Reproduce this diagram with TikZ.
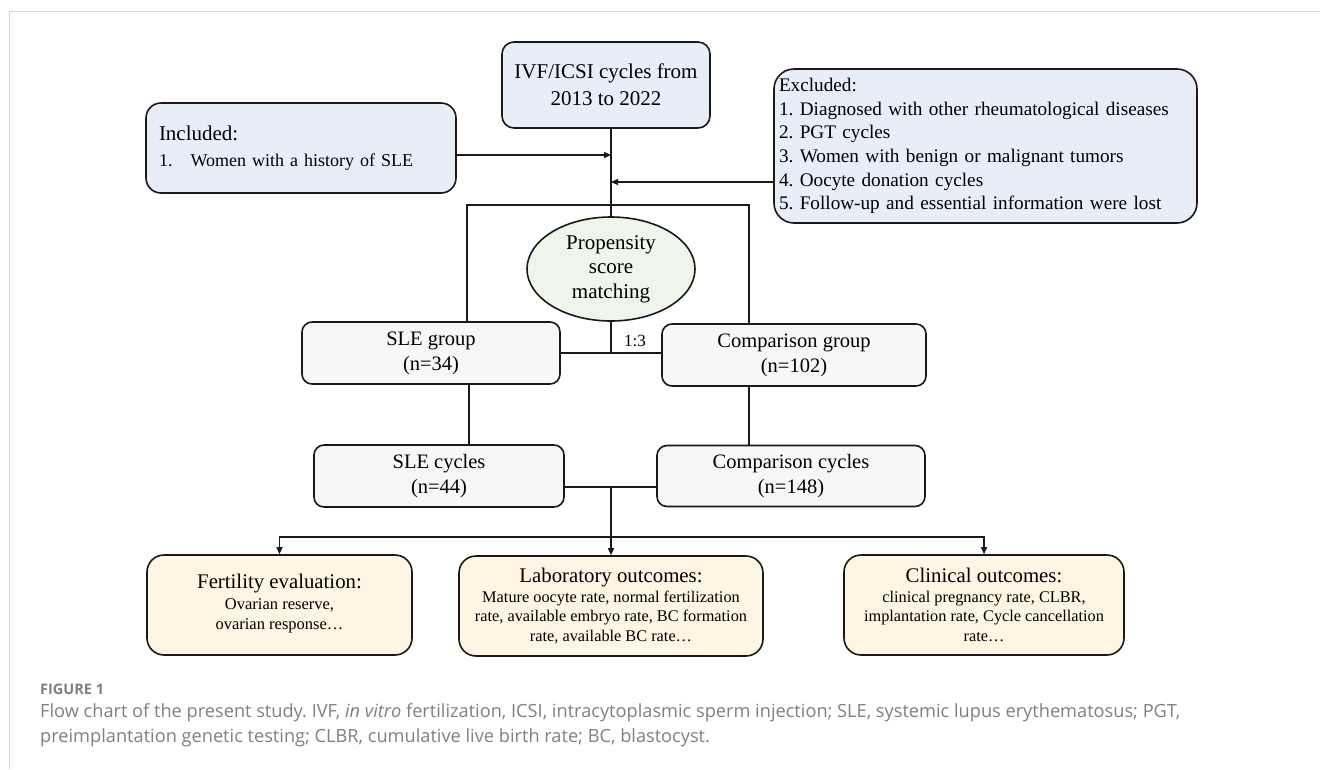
\documentclass[tikz,border=0pt]{standalone}
\usepackage{fontspec}
\setmainfont{Liberation Serif}
\newfontfamily\capfont{Open Sans}
\usetikzlibrary{arrows.meta,shapes.geometric}
\definecolor{bluefill}{HTML}{E7EEF8}
\definecolor{greenfill}{HTML}{EEF5E9}
\definecolor{grayfill}{HTML}{F7F7F7}
\definecolor{yellowfill}{HTML}{FEF5E2}
\definecolor{capgray}{HTML}{808080}
\definecolor{framegray}{HTML}{D6D6D6}
\newcommand\fsz[2]{\fontsize{#1}{#2}\selectfont}
\frenchspacing
\tikzset{
  box/.style={draw=black!90, line width=1.6pt, rounded corners=#1, inner sep=0pt, align=center},
  conn/.style={line width=1.4pt, draw=black!90},
  arr/.style={conn, -{Triangle[length=7pt,width=6pt]}},
}
\begin{document}
\begin{tikzpicture}[x=1pt,y=-1pt]
\useasboundingbox (0,0) rectangle (1320,769);
\fill[white] (0,0) rectangle (1320,769);
\draw[framegray, line width=1pt] (9,769) -- (9,11) -- (1320,11);

% nodes
\node[box=12pt, fill=bluefill, minimum width=208pt, minimum height=86pt, font=\fsz{21}{27}]
  (top) at (606,85) {IVF/ICSI cycles from\\2013 to 2022};
\node[box=15pt, fill=bluefill, minimum width=310pt, minimum height=90pt, align=left,
  text width=284pt, inner xsep=13pt, font=\fsz{18}{26}]
  (incl) at (301,148) {{\fsz{21}{26}Included:}\\1.\hspace{18pt}Women with a history of SLE};
\node[box=20pt, fill=bluefill, minimum width=423pt, minimum height=154pt, align=left,
  text width=413pt, inner xsep=5pt, font=\fsz{19.2}{23.6}]
  (excl) at (985.5,146) {Excluded:\\1. Diagnosed with other rheumatological diseases\\2. PGT cycles\\3. Women with benign or malignant tumors\\4. Oocyte donation cycles\\5. Follow-up and essential information were lost};
\node[ellipse, draw=black!90, line width=1.6pt, fill=greenfill, minimum width=168pt, minimum height=104pt,
  inner sep=0pt, align=center, font=\fsz{21}{24.5}]
  (ell) at (611,269) {Propensity\\score\\matching};
\node[box=10pt, fill=grayfill, minimum width=258pt, minimum height=62pt, font=\fsz{20.5}{25}]
  (sleg) at (431,353) {SLE group\\(n=34)};
\node[box=10pt, fill=grayfill, minimum width=264pt, minimum height=62pt, font=\fsz{20.5}{25}]
  (compg) at (794,355) {Comparison group\\(n=102)};
\node[box=10pt, fill=grayfill, minimum width=250pt, minimum height=62pt, font=\fsz{20.5}{25}]
  (slec) at (439,476) {SLE cycles\\(n=44)};
\node[box=10pt, fill=grayfill, minimum width=268pt, minimum height=61pt, font=\fsz{20.5}{25}]
  (compc) at (791,476) {Comparison cycles\\(n=148)};
\node[box=17pt, fill=yellowfill, minimum width=265pt, minimum height=100pt, font=\fsz{16.5}{20.5}]
  (fert) at (279.5,605) {{\fsz{20.8}{27}Fertility evaluation:}\\Ovarian reserve,\\ovarian response\ldots\strut};
\node[box=17pt, fill=yellowfill, minimum width=304pt, minimum height=100pt, font=\fsz{16.3}{19.5}]
  (lab) at (611,606) {{\fsz{20.8}{24}Laboratory outcomes:}\\Mature oocyte rate, normal fertilization\\rate, available embryo rate, BC formation\\rate, available BC rate\ldots};
\node[box=17pt, fill=yellowfill, minimum width=280pt, minimum height=100pt, font=\fsz{16.3}{19.5}]
  (clin) at (984,605) {{\fsz{20.8}{24}Clinical outcomes:}\\clinical pregnancy rate, CLBR,\\implantation rate, Cycle cancellation\\rate\ldots};
\node[font=\fsz{17}{20}] (ratio) at (635,341) {1:3};

% junction coordinates
\coordinate (j1) at (611,155);
\coordinate (j2) at (611,182);
\coordinate (bl) at (467,205);
\coordinate (br) at (749,205);
\coordinate (sl) at (469,400);
\coordinate (j3) at (611,487);
\coordinate (j4) at (611,537);

% connectors
\draw[conn] (top.south -| ell.north) -- (ell.north);
\draw[arr] (incl.east |- j1) -- (j1);
\draw[arr] (excl.west |- j2) -- (j2);
\draw[conn] (sleg.north -| bl) -- (bl) -- (br) -- (compg.north -| br);
\draw[conn] (ell.south) -- (ell.south |- sleg.east);
\draw[conn] (sleg.east) -- (compg.west |- sleg.east);
\draw[conn] (sleg.south -| sl) -- (slec.north -| sl);
\draw[conn] (compg.south -| br) -- (compc.north -| br);
\draw[conn] (slec.east |- j3) -- (compc.west |- j3);
\draw[arr] (j3) -- (lab.north -| j3);
\draw[arr] (j4) -| (fert.north);
\draw[arr] (j4) -| (clin.north);

% caption
\node[anchor=west, inner sep=0pt, text=capgray, font=\capfont\bfseries\fsz{14.5}{17}] (figlab) at (40,689) {FIGURE 1};
\node[anchor=west, inner sep=0pt, text=capgray, font=\capfont\fsz{18.2}{22}] (cap1) at (40,713)
  {Flow chart of the present study. IVF, \textit{in vitro} fertilization, ICSI, intracytoplasmic sperm injection; SLE, systemic lupus erythematosus; PGT,};
\node[anchor=west, inner sep=0pt, text=capgray, font=\capfont\fsz{18.2}{22}] (cap2) at (40,738)
  {preimplantation genetic testing; CLBR, cumulative live birth rate; BC, blastocyst.};
\end{tikzpicture}
\end{document}
